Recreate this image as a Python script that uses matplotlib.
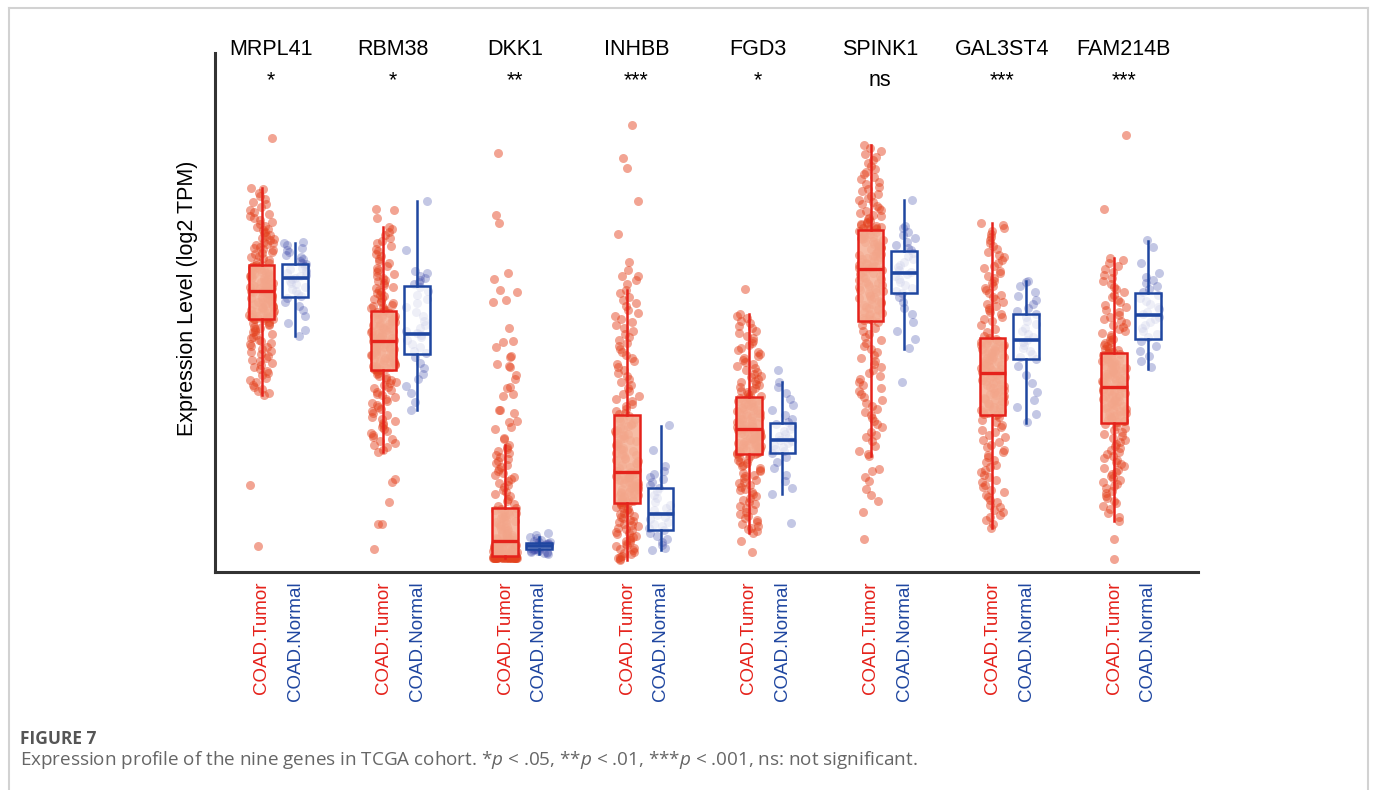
import numpy as np
import matplotlib.pyplot as plt

plt.rcParams['font.family'] = ['Liberation Sans', 'DejaVu Sans']
plt.rcParams['mathtext.fontset'] = 'custom'
plt.rcParams['mathtext.rm'] = 'Open Sans'
plt.rcParams['mathtext.it'] = 'Open Sans:italic'

genes = ['MRPL41', 'RBM38', 'DKK1', 'INHBB', 'FGD3', 'SPINK1', 'GAL3ST4', 'FAM214B']
signif = ['*', '*', '**', '***', '*', 'ns', '***', '***']
group_labels = ['COAD.Tumor', 'COAD.Normal']

# box statistics, log2 TPM
tumor_whislo = [3.54, 2.41, 0.28, 0.24, 0.79, 2.33, 0.89, 1.03]
tumor_q1     = [5.06, 4.05, 0.32, 1.39, 2.36, 5.03, 3.14, 2.99]
tumor_med    = [5.63, 4.63, 0.63, 2.01, 2.87, 6.07, 3.99, 3.71]
tumor_q3     = [6.15, 5.23, 1.29, 3.14, 3.50, 6.85, 4.69, 4.39]
tumor_whishi = [7.69, 6.91, 2.54, 5.64, 5.17, 8.54, 6.99, 6.29]

normal_whislo = [4.72, 3.25, 0.37, 0.44, 1.56, 4.46, 2.99, 4.07]
normal_q1     = [5.51, 4.37, 0.46, 0.85, 2.39, 5.59, 4.27, 4.67]
normal_med    = [5.89, 4.77, 0.53, 1.16, 2.65, 5.99, 4.65, 5.15]
normal_q3     = [6.16, 5.73, 0.59, 1.69, 2.99, 6.43, 5.17, 5.58]
normal_whishi = [6.59, 7.43, 0.71, 2.92, 3.81, 7.44, 5.83, 6.63]

# individual samples (tumor)
mrpl41_t = [8.69,
            7.69, 7.66, 7.58, 7.52, 7.47, 7.40, 7.36, 7.31, 7.25, 7.21, 7.17, 7.12, 7.08, 7.04, 7.00, 6.97,
            6.93, 6.90, 6.87, 6.84, 6.81, 6.78, 6.75, 6.72, 6.69, 6.67, 6.64, 6.61, 6.59, 6.56, 6.54, 6.51,
            6.49, 6.46, 6.44, 6.41, 6.39, 6.36, 6.33, 6.31, 6.28, 6.25, 6.21, 6.18,
            6.15, 6.14, 6.12, 6.11, 6.10, 6.08, 6.07, 6.06, 6.04, 6.03, 6.01, 6.00, 5.99, 5.97, 5.96, 5.95,
            5.93, 5.92, 5.90, 5.89, 5.88, 5.86, 5.85, 5.84, 5.82, 5.81, 5.80, 5.78, 5.77, 5.76, 5.74, 5.73,
            5.72, 5.71, 5.70, 5.69, 5.68, 5.67, 5.66, 5.65, 5.64, 5.64, 5.63, 5.63,
            5.62, 5.61, 5.60, 5.58, 5.57, 5.56, 5.55, 5.53, 5.52, 5.51, 5.49, 5.48, 5.47, 5.45, 5.44, 5.43,
            5.41, 5.40, 5.38, 5.37, 5.36, 5.34, 5.33, 5.31, 5.30, 5.28, 5.27, 5.25, 5.24, 5.22, 5.21, 5.19,
            5.18, 5.16, 5.15, 5.13, 5.12, 5.11, 5.10, 5.09, 5.08, 5.07, 5.07, 5.06,
            5.04, 5.01, 4.99, 4.96, 4.94, 4.91, 4.88, 4.86, 4.83, 4.80, 4.77, 4.74, 4.71, 4.68, 4.65, 4.62,
            4.59, 4.56, 4.53, 4.50, 4.46, 4.43, 4.40, 4.36, 4.33, 4.29, 4.25, 4.22, 4.18, 4.14, 4.10, 4.06,
            4.02, 3.98, 3.94, 3.89, 3.85, 3.80, 3.75, 3.70, 3.66, 3.62, 3.58, 3.54,
            1.74, 0.53]

rbm38_t = [7.27, 7.24, 7.09,
           6.91, 6.86, 6.80, 6.74, 6.69, 6.63, 6.58, 6.52, 6.47, 6.42, 6.37, 6.32, 6.27, 6.22, 6.18, 6.13,
           6.09, 6.05, 6.01, 5.97, 5.93, 5.89, 5.85, 5.82, 5.78, 5.75, 5.71, 5.68, 5.65, 5.61, 5.58, 5.55,
           5.52, 5.49, 5.46, 5.43, 5.40, 5.38, 5.35, 5.33, 5.30, 5.28, 5.26, 5.24,
           5.22, 5.21, 5.19, 5.18, 5.16, 5.15, 5.13, 5.12, 5.10, 5.09, 5.07, 5.06, 5.04, 5.03, 5.01, 5.00,
           4.98, 4.97, 4.95, 4.94, 4.92, 4.91, 4.89, 4.88, 4.86, 4.85, 4.83, 4.82, 4.80, 4.79, 4.78, 4.76,
           4.75, 4.74, 4.72, 4.71, 4.70, 4.69, 4.68, 4.67, 4.66, 4.65, 4.64, 4.63,
           4.62, 4.61, 4.59, 4.58, 4.57, 4.55, 4.54, 4.53, 4.51, 4.50, 4.48, 4.47, 4.46, 4.44, 4.43, 4.41,
           4.40, 4.38, 4.37, 4.35, 4.34, 4.32, 4.31, 4.29, 4.28, 4.26, 4.25, 4.23, 4.22, 4.20, 4.19, 4.17,
           4.16, 4.14, 4.13, 4.12, 4.11, 4.10, 4.09, 4.08, 4.07, 4.06, 4.06, 4.05,
           4.02, 3.99, 3.96, 3.93, 3.90, 3.87, 3.84, 3.81, 3.78, 3.74, 3.71, 3.68, 3.64, 3.61, 3.57, 3.54,
           3.50, 3.47, 3.43, 3.39, 3.35, 3.31, 3.27, 3.23, 3.19, 3.15, 3.11, 3.07, 3.03, 2.99, 2.95, 2.91,
           2.87, 2.83, 2.79, 2.75, 2.71, 2.67, 2.63, 2.59, 2.55, 2.50, 2.45, 2.41,
           1.87, 1.80, 1.41, 0.97, 0.96, 0.47]

dkk1_t = [8.39, 7.15, 6.99, 5.99, 5.87, 5.65, 5.61, 5.44, 5.41, 4.88, 4.63, 4.61, 4.51, 4.33, 4.31, 4.16,
          4.12, 4.10, 3.94, 3.87, 3.71, 3.69, 3.56, 3.52, 3.25, 3.24, 3.19, 3.02, 3.00, 2.91, 2.87, 2.68,
          2.66,
          2.54, 2.50, 2.46, 2.42, 2.38, 2.34, 2.30, 2.26, 2.22, 2.18, 2.14, 2.10, 2.06, 2.02, 1.98, 1.94,
          1.90, 1.86, 1.82, 1.78, 1.74, 1.70, 1.65, 1.61, 1.57, 1.52, 1.47, 1.42, 1.37, 1.32,
          1.29, 1.27, 1.25, 1.23, 1.21, 1.19, 1.17, 1.15, 1.13, 1.11, 1.09, 1.07, 1.05, 1.03, 1.01, 0.99,
          0.97, 0.95, 0.93, 0.91, 0.89, 0.87, 0.85, 0.83, 0.81, 0.79, 0.77, 0.76, 0.74, 0.73, 0.71, 0.70,
          0.69, 0.68, 0.67, 0.66, 0.65, 0.64, 0.64, 0.63,
          0.62, 0.61, 0.60, 0.59, 0.58, 0.57, 0.56, 0.55, 0.54, 0.53, 0.52, 0.51, 0.50, 0.49, 0.48, 0.47,
          0.46, 0.45, 0.44, 0.43, 0.42, 0.41, 0.40, 0.40, 0.39, 0.38, 0.38, 0.37, 0.37, 0.36, 0.36, 0.35,
          0.35, 0.34, 0.34, 0.33, 0.33, 0.33, 0.32, 0.32,
          0.31, 0.31, 0.31, 0.31, 0.31, 0.31, 0.30, 0.30, 0.30, 0.30, 0.30, 0.30, 0.30, 0.30, 0.29, 0.29,
          0.29, 0.29, 0.29, 0.29, 0.29, 0.29, 0.29, 0.29, 0.28, 0.28, 0.28, 0.28, 0.28, 0.28, 0.28, 0.28,
          0.28, 0.28, 0.28, 0.28]

inhbb_t = [8.94, 8.29, 8.09, 7.43, 6.76, 6.20, 6.04, 5.93, 5.92, 5.85, 5.77,
           5.64, 5.58, 5.51, 5.45, 5.38, 5.32, 5.25, 5.19, 5.13, 5.06, 5.00, 4.94, 4.88, 4.82, 4.76, 4.70,
           4.64, 4.58, 4.52, 4.46, 4.40, 4.34, 4.28, 4.22, 4.16, 4.10, 4.04, 3.98, 3.92, 3.86, 3.80, 3.74,
           3.68, 3.62, 3.57, 3.52, 3.47, 3.42, 3.37, 3.32, 3.27, 3.23, 3.19, 3.16,
           3.12, 3.09, 3.07, 3.04, 3.02, 2.99, 2.97, 2.94, 2.92, 2.89, 2.87, 2.84, 2.82, 2.79, 2.77, 2.74,
           2.72, 2.69, 2.67, 2.64, 2.62, 2.59, 2.57, 2.54, 2.52, 2.49, 2.47, 2.44, 2.42, 2.39, 2.37, 2.34,
           2.32, 2.29, 2.27, 2.24, 2.22, 2.19, 2.17, 2.14, 2.11, 2.08, 2.05, 2.02,
           2.00, 1.99, 1.97, 1.96, 1.94, 1.93, 1.91, 1.90, 1.88, 1.87, 1.85, 1.84, 1.82, 1.81, 1.79, 1.78,
           1.76, 1.75, 1.73, 1.72, 1.70, 1.69, 1.67, 1.66, 1.64, 1.63, 1.61, 1.60, 1.58, 1.57, 1.55, 1.54,
           1.52, 1.51, 1.49, 1.48, 1.46, 1.45, 1.43, 1.42, 1.41, 1.40, 1.40, 1.39,
           1.36, 1.34, 1.31, 1.29, 1.26, 1.24, 1.21, 1.18, 1.16, 1.13, 1.10, 1.08, 1.05, 1.02, 1.00, 0.97,
           0.94, 0.92, 0.89, 0.86, 0.84, 0.81, 0.78, 0.76, 0.73, 0.70, 0.68, 0.65, 0.62, 0.60, 0.57, 0.54,
           0.52, 0.49, 0.46, 0.44, 0.41, 0.38, 0.36, 0.33, 0.30, 0.28, 0.26, 0.24]

fgd3_t = [5.66,
          5.17, 5.13, 5.08, 5.03, 4.98, 4.93, 4.88, 4.83, 4.78, 4.73, 4.68, 4.63, 4.58, 4.54, 4.49, 4.45,
          4.40, 4.36, 4.32, 4.28, 4.24, 4.20, 4.16, 4.12, 4.08, 4.04, 4.00, 3.97, 3.93, 3.90, 3.86, 3.83,
          3.80, 3.77, 3.74, 3.71, 3.68, 3.65, 3.62, 3.60, 3.57, 3.55, 3.53, 3.51,
          3.49, 3.48, 3.46, 3.45, 3.43, 3.42, 3.40, 3.39, 3.37, 3.36, 3.34, 3.33, 3.31, 3.30, 3.28, 3.27,
          3.25, 3.24, 3.22, 3.21, 3.19, 3.18, 3.16, 3.15, 3.13, 3.12, 3.10, 3.09, 3.07, 3.06, 3.04, 3.03,
          3.01, 3.00, 2.98, 2.97, 2.95, 2.94, 2.92, 2.91, 2.90, 2.89, 2.88, 2.87,
          2.86, 2.85, 2.84, 2.83, 2.81, 2.80, 2.79, 2.78, 2.77, 2.75, 2.74, 2.73, 2.72, 2.71, 2.69, 2.68,
          2.67, 2.66, 2.65, 2.63, 2.62, 2.61, 2.60, 2.59, 2.57, 2.56, 2.55, 2.54, 2.53, 2.51, 2.50, 2.49,
          2.48, 2.47, 2.45, 2.44, 2.43, 2.42, 2.41, 2.40, 2.39, 2.38, 2.37, 2.36,
          2.33, 2.30, 2.27, 2.24, 2.21, 2.18, 2.15, 2.12, 2.08, 2.05, 2.02, 1.98, 1.95, 1.92, 1.88, 1.85,
          1.81, 1.78, 1.74, 1.71, 1.67, 1.64, 1.60, 1.56, 1.53, 1.49, 1.45, 1.41, 1.37, 1.33, 1.29, 1.25,
          1.21, 1.17, 1.13, 1.09, 1.05, 1.01, 0.97, 0.93, 0.89, 0.86, 0.82, 0.79,
          0.63, 0.40]

spink1_t = [8.54, 8.49, 8.43, 8.37, 8.31, 8.25, 8.19, 8.13, 8.07, 8.01, 7.96, 7.91, 7.86, 7.81, 7.76, 7.71,
            7.66, 7.62, 7.57, 7.53, 7.49, 7.45, 7.41, 7.37, 7.33, 7.29, 7.25, 7.22, 7.18, 7.15, 7.12, 7.09,
            7.06, 7.03, 7.00, 6.98, 6.96, 6.94, 6.92, 6.90, 6.89, 6.88, 6.87, 6.86,
            6.84, 6.82, 6.80, 6.78, 6.77, 6.75, 6.73, 6.71, 6.69, 6.68, 6.66, 6.64, 6.62, 6.60, 6.59, 6.57,
            6.55, 6.53, 6.51, 6.50, 6.48, 6.46, 6.44, 6.42, 6.41, 6.39, 6.37, 6.35, 6.33, 6.32, 6.30, 6.28,
            6.26, 6.24, 6.23, 6.21, 6.19, 6.17, 6.15, 6.14, 6.12, 6.10, 6.09, 6.08,
            6.05, 6.03, 6.00, 5.98, 5.96, 5.93, 5.91, 5.89, 5.86, 5.84, 5.81, 5.79, 5.77, 5.74, 5.72, 5.70,
            5.67, 5.65, 5.62, 5.60, 5.58, 5.55, 5.53, 5.51, 5.48, 5.46, 5.43, 5.41, 5.39, 5.36, 5.34, 5.31,
            5.29, 5.26, 5.24, 5.21, 5.19, 5.16, 5.14, 5.12, 5.09, 5.07, 5.05, 5.04,
            5.00, 4.95, 4.89, 4.83, 4.77, 4.71, 4.65, 4.59, 4.53, 4.47, 4.41, 4.35, 4.29, 4.23, 4.17, 4.11,
            4.05, 3.99, 3.93, 3.87, 3.81, 3.75, 3.69, 3.63, 3.57, 3.51, 3.45, 3.39, 3.33, 3.27, 3.21, 3.15,
            3.09, 3.03, 2.97, 2.90, 2.81, 2.75, 2.71, 2.62, 2.52, 2.43, 2.36, 2.33,
            2.06, 2.02, 1.91, 1.83, 1.67, 1.54, 1.43, 1.21, 0.67]

gal3st4_t = [6.99, 6.94, 6.88, 6.82, 6.76, 6.70, 6.64, 6.58, 6.52, 6.46, 6.41, 6.35, 6.30, 6.24, 6.19, 6.13,
             6.08, 6.03, 5.98, 5.93, 5.88, 5.83, 5.78, 5.73, 5.69, 5.64, 5.59, 5.55, 5.50, 5.46, 5.41, 5.37,
             5.33, 5.28, 5.24, 5.20, 5.16, 5.11, 5.07, 5.03, 4.95, 4.87, 4.80, 4.73,
             4.68, 4.66, 4.65, 4.63, 4.62, 4.60, 4.58, 4.57, 4.55, 4.54, 4.52, 4.50, 4.49, 4.47, 4.46, 4.44,
             4.42, 4.41, 4.39, 4.38, 4.36, 4.34, 4.33, 4.31, 4.30, 4.28, 4.26, 4.25, 4.23, 4.22, 4.20, 4.18,
             4.17, 4.15, 4.14, 4.12, 4.10, 4.09, 4.07, 4.06, 4.04, 4.03, 4.01, 4.00,
             3.98, 3.96, 3.94, 3.92, 3.90, 3.88, 3.86, 3.84, 3.82, 3.80, 3.78, 3.76, 3.74, 3.72, 3.70, 3.68,
             3.66, 3.64, 3.62, 3.60, 3.58, 3.56, 3.54, 3.52, 3.50, 3.48, 3.46, 3.44, 3.42, 3.40, 3.38, 3.36,
             3.34, 3.32, 3.30, 3.28, 3.26, 3.24, 3.22, 3.20, 3.18, 3.17, 3.16, 3.15,
             3.10, 3.05, 3.00, 2.95, 2.90, 2.85, 2.80, 2.75, 2.70, 2.65, 2.60, 2.55, 2.50, 2.45, 2.40, 2.35,
             2.30, 2.25, 2.20, 2.15, 2.10, 2.05, 2.00, 1.95, 1.90, 1.85, 1.80, 1.75, 1.70, 1.65, 1.60, 1.55,
             1.50, 1.45, 1.40, 1.35, 1.30, 1.25, 1.20, 1.15, 1.10, 1.04, 0.97, 0.89]

fam214b_t = [8.75, 7.26,
             6.29, 6.24, 6.18, 6.12, 6.06, 6.00, 5.94, 5.88, 5.82, 5.77, 5.71, 5.66, 5.60, 5.55, 5.50, 5.45,
             5.40, 5.35, 5.30, 5.25, 5.20, 5.15, 5.11, 5.06, 5.02, 4.98, 4.94, 4.90, 4.86, 4.82, 4.78, 4.74,
             4.71, 4.67, 4.64, 4.61, 4.58, 4.55, 4.52, 4.49, 4.47, 4.45, 4.43, 4.41,
             4.38, 4.36, 4.35, 4.33, 4.32, 4.30, 4.29, 4.27, 4.26, 4.24, 4.23, 4.21, 4.20, 4.18, 4.17, 4.15,
             4.14, 4.12, 4.11, 4.09, 4.08, 4.06, 4.05, 4.03, 4.02, 4.00, 3.99, 3.97, 3.96, 3.94, 3.93, 3.91,
             3.90, 3.88, 3.87, 3.85, 3.84, 3.82, 3.80, 3.79, 3.77, 3.75, 3.74, 3.72,
             3.70, 3.68, 3.67, 3.65, 3.63, 3.62, 3.60, 3.58, 3.57, 3.55, 3.53, 3.52, 3.50, 3.48, 3.47, 3.45,
             3.43, 3.42, 3.40, 3.38, 3.37, 3.35, 3.33, 3.32, 3.30, 3.28, 3.27, 3.25, 3.23, 3.22, 3.20, 3.18,
             3.17, 3.15, 3.13, 3.12, 3.10, 3.08, 3.07, 3.05, 3.03, 3.02, 3.01, 3.00,
             2.96, 2.92, 2.88, 2.84, 2.80, 2.76, 2.72, 2.68, 2.64, 2.60, 2.56, 2.52, 2.48, 2.44, 2.40, 2.36,
             2.32, 2.28, 2.24, 2.20, 2.16, 2.12, 2.08, 2.04, 2.00, 1.96, 1.92, 1.88, 1.84, 1.80, 1.76, 1.72,
             1.68, 1.63, 1.58, 1.53, 1.48, 1.43, 1.38, 1.32, 1.26, 1.19, 1.11, 1.03,
             0.67, 0.27]

# individual samples (normal)
mrpl41_n = [6.60, 6.58, 6.55, 6.49, 6.44, 6.40, 6.35, 6.31, 6.27, 6.22, 6.19, 6.16, 6.13, 6.09, 6.06, 6.02,
            5.98, 5.95, 5.92, 5.89, 5.87, 5.83, 5.79, 5.76, 5.71, 5.66, 5.62, 5.57, 5.53, 5.48, 5.41, 5.33,
            5.25, 5.13, 4.98, 4.85, 4.72]
rbm38_n = [7.43, 6.44, 6.02, 5.98, 5.93, 5.89, 5.84, 5.80, 5.76, 5.70, 5.62, 5.55, 5.47, 5.38, 5.30, 5.21,
           5.12, 5.03, 4.95, 4.88, 4.82, 4.78, 4.75, 4.70, 4.64, 4.57, 4.50, 4.43, 4.38, 4.30, 4.18, 4.08,
           3.97, 3.86, 3.72, 3.58, 3.40, 3.25]
dkk1_n = [0.78, 0.74, 0.71, 0.68, 0.65, 0.63, 0.61, 0.60, 0.59, 0.58, 0.57, 0.56, 0.55, 0.54, 0.54, 0.53,
          0.53, 0.52, 0.51, 0.50, 0.49, 0.48, 0.47, 0.46, 0.46, 0.45, 0.44, 0.43, 0.42, 0.41, 0.40, 0.39,
          0.38, 0.37]
inhbb_n = [2.94, 2.45, 2.12, 2.03, 1.96, 1.91, 1.86, 1.80, 1.74, 1.68, 1.62, 1.55, 1.48, 1.41, 1.35, 1.29,
           1.24, 1.19, 1.15, 1.11, 1.06, 1.01, 0.96, 0.92, 0.88, 0.84, 0.79, 0.73, 0.67, 0.61, 0.55, 0.49,
           0.44]
fgd3_n = [4.04, 3.81, 3.70, 3.58, 3.46, 3.35, 3.24, 3.14, 3.06, 3.00, 2.96, 2.92, 2.87, 2.82, 2.77, 2.72,
          2.68, 2.65, 2.62, 2.58, 2.54, 2.50, 2.46, 2.42, 2.39, 2.30, 2.20, 2.08, 1.95, 1.82, 1.68, 1.56,
          0.99]
spink1_n = [7.44, 6.93, 6.88, 6.80, 6.74, 6.68, 6.61, 6.55, 6.49, 6.44, 6.39, 6.33, 6.27, 6.21, 6.15, 6.10,
            6.05, 6.01, 5.97, 5.92, 5.87, 5.81, 5.75, 5.69, 5.63, 5.58, 5.50, 5.40, 5.29, 5.16, 5.00, 4.82,
            4.66, 4.48, 3.80]
gal3st4_n = [5.83, 5.80, 5.72, 5.61, 5.52, 5.44, 5.36, 5.29, 5.22, 5.17, 5.10, 5.03, 4.96, 4.89, 4.82, 4.76,
             4.70, 4.65, 4.60, 4.55, 4.49, 4.43, 4.37, 4.31, 4.27, 4.12, 3.95, 3.78, 3.60, 3.44, 3.30, 3.16,
             3.00]
fam214b_n = [6.64, 6.51, 6.18, 5.98, 5.90, 5.84, 5.78, 5.72, 5.66, 5.60, 5.55, 5.49, 5.43, 5.37, 5.31, 5.26,
             5.21, 5.16, 5.11, 5.06, 5.00, 4.94, 4.88, 4.82, 4.76, 4.70, 4.62, 4.52, 4.42, 4.32, 4.22, 4.11]

tumor_points = [mrpl41_t, rbm38_t, dkk1_t, inhbb_t, fgd3_t, spink1_t, gal3st4_t, fam214b_t]
normal_points = [mrpl41_n, rbm38_n, dkk1_n, inhbb_n, fgd3_n, spink1_n, gal3st4_n, fam214b_n]

# colours
tumor_line = '#e5221b'
tumor_dot = '#e4421e'
tumor_fill = (0.96, 0.70, 0.60, 0.88)
normal_line = '#1f46a0'
normal_dot = '#3a46a8'
normal_fill = (1, 1, 1, 0.72)

offset = 0.138
box_w = 0.21


def jitter(n, half, seed):
    # sideways spread of the dots, a fixed hash so every run looks the same
    k = np.arange(n) + 1 + seed * 1000
    u = np.abs(np.sin(k * 12.9898) * 43758.5453) % 1.0
    return (u - 0.5) * 2 * half


def box_stats(lo, q1, med, q3, hi):
    return [dict(whislo=a, q1=b, med=c, q3=d, whishi=e, fliers=[])
            for a, b, c, d, e in zip(lo, q1, med, q3, hi)]


fig = plt.figure(figsize=(13.75, 7.9), dpi=100)
ax = fig.add_axes([0.1564, 0.2759, 0.7149, 0.657])

idx = np.arange(len(genes))
pos_t = idx - offset
pos_n = idx + offset

for i in idx:
    yt = np.array(tumor_points[i])
    yn = np.array(normal_points[i])
    ax.scatter(pos_t[i] + jitter(len(yt), 0.1, i), yt, s=42, color=tumor_dot,
               alpha=0.48, linewidths=0, zorder=2)
    ax.scatter(pos_n[i] + jitter(len(yn), 0.095, i + 20), yn, s=42, color=normal_dot,
               alpha=0.3, linewidths=0, zorder=2)

ax.bxp(box_stats(tumor_whislo, tumor_q1, tumor_med, tumor_q3, tumor_whishi),
       positions=pos_t, widths=box_w, patch_artist=True, showfliers=False, showcaps=False,
       boxprops=dict(facecolor=tumor_fill, edgecolor=tumor_line, linewidth=1.8),
       medianprops=dict(color=tumor_line, linewidth=2.4),
       whiskerprops=dict(color=tumor_line, linewidth=1.8), zorder=3)
ax.bxp(box_stats(normal_whislo, normal_q1, normal_med, normal_q3, normal_whishi),
       positions=pos_n, widths=box_w, patch_artist=True, showfliers=False, showcaps=False,
       boxprops=dict(facecolor=normal_fill, edgecolor=normal_line, linewidth=1.8),
       medianprops=dict(color=normal_line, linewidth=2.6),
       whiskerprops=dict(color=normal_line, linewidth=1.8), zorder=3)

ax.set_xlim(-0.52, 7.55)
ax.set_ylim(0, 10.38)

# axis styling: only left and bottom lines, no y ticks
for side in ['top', 'right']:
    ax.spines[side].set_visible(False)
for side in ['left', 'bottom']:
    ax.spines[side].set_color('#333333')
    ax.spines[side].set_linewidth(2.2)
ax.set_yticks([])

ticks = np.ravel(np.column_stack([pos_t, pos_n]))
ax.set_xticks(ticks)
ax.set_xticklabels(group_labels * len(genes), rotation=90, fontsize=13.5)
for k, lab in enumerate(ax.get_xticklabels()):
    lab.set_color(tumor_line if k % 2 == 0 else normal_line)
ax.tick_params(axis='x', length=0, pad=7)

ax.set_ylabel('Expression Level (log2 TPM)', fontsize=15.5)
ax.yaxis.set_label_coords(-0.0285, 0.527)
ax.yaxis.label.set_verticalalignment('center')

# gene names and significance marks above each pair
trans = ax.get_xaxis_transform()
for i, (g, s) in enumerate(zip(genes, signif)):
    ax.text(i - 0.06, 0.996, g, transform=trans, ha='center', va='baseline',
            fontsize=15.5, clip_on=False)
    ax.text(i - 0.06, 0.937, s, transform=trans, ha='center', va='baseline',
            fontsize=15.5, clip_on=False)

# caption below the plot
fig.text(20 / 1375, 1 - 744 / 790, 'FIGURE 7', fontsize=12.5, color='#555555',
         fontweight='bold', family='Open Sans', va='baseline')
fig.text(20 / 1375, 1 - 765 / 790,
         r'Expression profile of the nine genes in TCGA cohort. *$p$ < .05, **$p$ < .01, '
         r'***$p$ < .001, ns: not significant.',
         fontsize=13.6, color='#666666', family='Open Sans', va='baseline')

# thin frame around the figure panel
fig.add_artist(plt.Line2D([8.5 / 1375, 8.5 / 1375], [0, 1 - 7.5 / 790], color='#d2d2d2', lw=1.5))
fig.add_artist(plt.Line2D([8.5 / 1375, 1367.5 / 1375], [1 - 7.5 / 790, 1 - 7.5 / 790], color='#d2d2d2', lw=1.5))
fig.add_artist(plt.Line2D([1367.5 / 1375, 1367.5 / 1375], [0, 1 - 7.5 / 790], color='#d2d2d2', lw=1.5))

fig.savefig('out.png', dpi=100)
